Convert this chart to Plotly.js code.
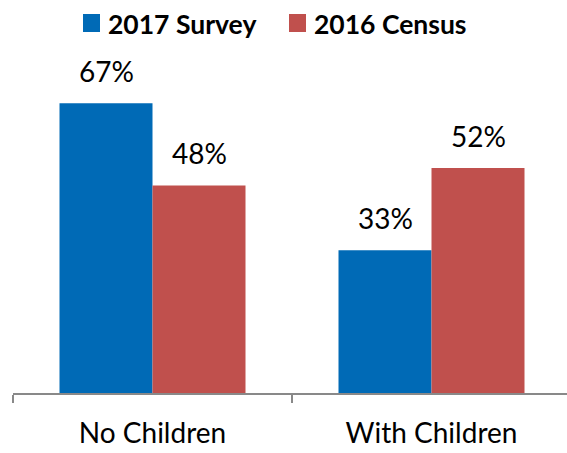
<!DOCTYPE html>
<html>
<head>
<meta charset="utf-8">
<script src="https://cdn.plot.ly/plotly-3.0.1.min.js"></script>
<style>html,body{margin:0;padding:0;background:#fff;}#chart{width:567px;height:453px;}</style>
</head>
<body>
<div id="chart"></div>
<script>
const categories = ["No Children", "With Children"];
const seriesNames = ["2017 Survey", "2016 Census"];
const survey2017 = [67, 33];
const census2016 = [48, 52];
const colors = ["#006AB6", "#C0504D"];

const FONT = "Lato, 'Open Sans', sans-serif";

// plot area in pixels (for placing the legend drawn above the plot)
const L = 13, T = 47, B = 393, W = 554, H = B - T;
const px2x = p => (p - L) / W;
const px2y = p => (B - p) / H;

const traces = [survey2017, census2016].map((vals, i) => ({
  type: "bar",
  name: seriesNames[i],
  x: categories,
  y: vals,
  marker: {color: colors[i]},
  hoverinfo: "skip",
  showlegend: false
}));

// value labels from the data
const annotations = [];
[survey2017, census2016].forEach((vals, i) => {
  vals.forEach((v, j) => {
    annotations.push({
      x: categories[j], y: v, xref: "x", yref: "y",
      xshift: (i === 0 ? -1 : 1) * 46.5,
      yshift: 13,
      yanchor: "bottom",
      text: v + "%",
      showarrow: false,
      font: {family: FONT, size: 28, color: "#000"}
    });
  });
});

// legend: colour squares + bold names
const legendSquareX = [83, 289];
const legendTextX = [106, 312];
const shapes = [];
seriesNames.forEach((name, i) => {
  shapes.push({
    type: "rect", xref: "paper", yref: "paper",
    x0: px2x(legendSquareX[i]), x1: px2x(legendSquareX[i] + 17),
    y0: px2y(32), y1: px2y(14),
    fillcolor: colors[i], line: {width: 0}
  });
  annotations.push({
    xref: "paper", yref: "paper",
    x: px2x(legendTextX[i]), xanchor: "left",
    y: px2y(24), yanchor: "middle",
    text: "<b>" + name + "</b>",
    showarrow: false,
    font: {family: FONT, size: 26.5, color: "#000"}
  });
});

const layout = {
  width: 567, height: 453,
  margin: {l: L, r: 0, t: T, b: 453 - B},
  paper_bgcolor: "#fff", plot_bgcolor: "#fff",
  barmode: "group",
  bargap: 1/3,
  bargroupgap: 0,
  showlegend: false,
  xaxis: {
    type: "category",
    range: [-0.5, -0.5 + 554/279],
    showline: true, linecolor: "#898989", linewidth: 1.5,
    ticks: "outside", tickson: "boundaries", ticklen: 8, tickcolor: "#898989", tickwidth: 1.5,
    showgrid: false, zeroline: false,
    tickfont: {family: FONT, size: 28, color: "#000"},
    ticklabelstandoff: 15
  },
  yaxis: {
    range: [0, 80],
    visible: false,
    showgrid: false, zeroline: false
  },
  shapes: shapes,
  annotations: annotations
};

Plotly.newPlot("chart", traces, layout, {displayModeBar: false, staticPlot: true});
</script>
</body>
</html>
